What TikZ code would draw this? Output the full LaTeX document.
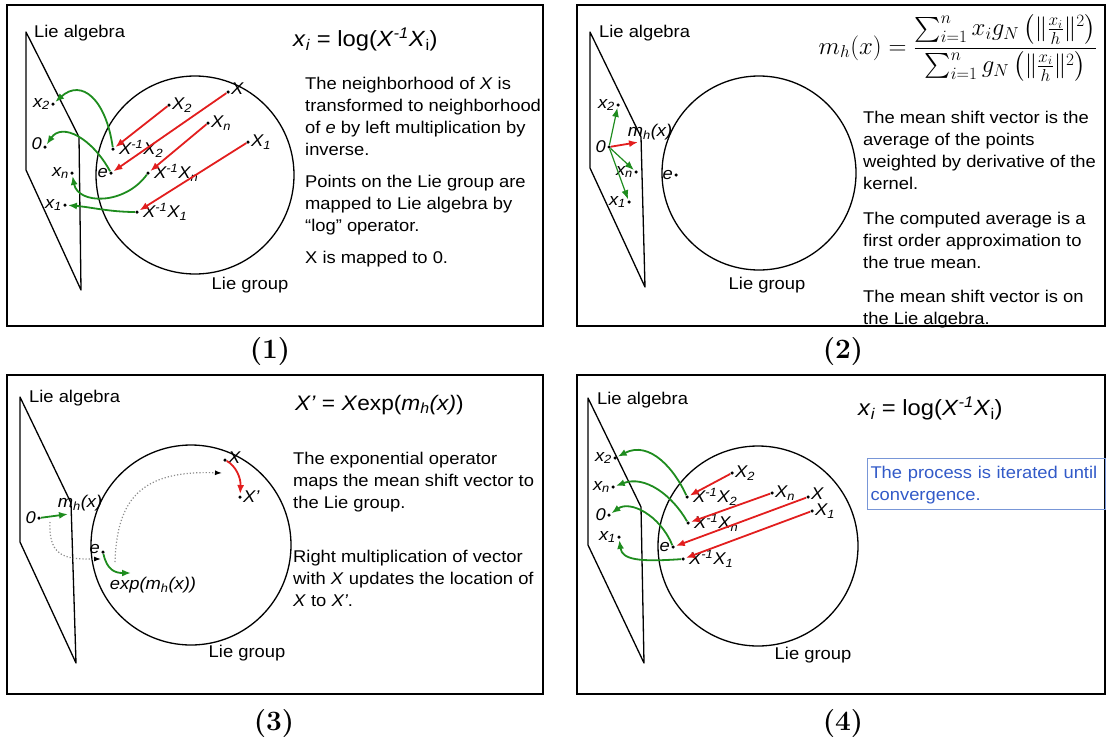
\documentclass[tikz,border=0pt]{standalone}
\usepackage{amsmath}
\usepackage{fontspec}
\newfontfamily\arial[FakeStretch=1.08]{Liberation Sans}
\usetikzlibrary{positioning,arrows.meta}
\definecolor{arrred}{RGB}{226,30,30}
\definecolor{arrgreen}{RGB}{30,140,30}
\definecolor{boxblue}{RGB}{120,150,215}
\definecolor{txtblue}{RGB}{50,90,200}
\newcommand{\invX}[1]{\textit{X}\textsuperscript{\textit{-1}}\textit{X}\textsubscript{\textit{#1}}}
\newcommand{\xsub}[1]{\textit{x}\textsubscript{\textit{#1}}}
\newcommand{\Xsub}[1]{\textit{X}\textsubscript{\textit{#1}}}
\newcommand{\mhx}{\textit{m}\textsubscript{\textit{h}}\textit{(x)}}

\begin{document}
\begin{tikzpicture}[x=1pt,y=-1pt,
    panel/.style={draw,line width=2.5pt},
    thinline/.style={line width=1.3pt,line join=round},
    dot/.style={circle,fill,inner sep=0pt,minimum size=3.5pt},
    lbl/.style={font=\arial\fontsize{17}{20}\selectfont\itshape,inner sep=1pt},
    lietxt/.style={font=\arial\fontsize{17}{20}\selectfont,inner sep=0pt},
    txt/.style={font=\arial\fontsize{17}{22}\selectfont,inner sep=0pt,
                align=left,anchor=north west},
    formula/.style={font=\arial\fontsize{22}{26}\selectfont,inner sep=0pt,
                    anchor=base west},
    redarr/.style={draw=arrred,line width=1.8pt,shorten >=1pt,
                   -{Latex[length=9pt,width=7pt]}},
    grnarr/.style={draw=arrgreen,line width=1.8pt,shorten >=1pt,
                   -{Latex[length=9pt,width=7pt]}},
    dotarr/.style={draw=black!45,dotted,line width=1.2pt,
                   -{Latex[length=7pt,width=5pt,color=black]}},
    capnum/.style={font=\fontsize{28}{32}\selectfont\bfseries}]
  \useasboundingbox (0,0) rectangle (1107,742);

  % (1) log map
  \draw[panel] (7,5) rectangle (543,326);
  \draw[thinline] (26,32) -- (79,137) -- (81,290) -- (26,170) -- cycle;
  \draw[thinline] (195,175) circle [radius=99pt];
  \node[lietxt,anchor=west] (alg1) at (34,33) {Lie algebra};
  \node[lietxt] (grp1) at (250,285) {Lie group};
  \node[dot] (aX) at (228,92) {};
  \node[lbl,right=0pt of aX,yshift=3pt] (aXl) {X};
  \node[dot] (aX2) at (169,105) {};
  \node[lbl,right=0pt of aX2] (aX2l) {\Xsub{2}};
  \node[dot] (aXn) at (208,123) {};
  \node[lbl,right=0pt of aXn] (aXnl) {\Xsub{n}};
  \node[dot] (aX1) at (248,142) {};
  \node[lbl,right=0pt of aX1] (aX1l) {\Xsub{1}};
  \node[dot] (aIX2) at (113,149) {};
  \node[lbl,right=3pt of aIX2] (aIX2l) {\invX{2}};
  \node[dot] (ae) at (111,173) {};
  \node[lbl,left=0pt of ae] (ael) {e};
  \node[dot] (aIXn) at (148,173) {};
  \node[lbl,right=3pt of aIXn] (aIXnl) {\invX{n}};
  \node[dot] (aIX1) at (137,212) {};
  \node[lbl,right=3pt of aIX1] (aIX1l) {\invX{1}};
  \node[dot] (ax2) at (53,104) {};
  \node[lbl,left=0pt of ax2] (ax2l) {\xsub{2}};
  \node[dot] (a0) at (45,147) {};
  \node[lbl,left=0pt of a0,yshift=3pt] (a0l) {0};
  \node[dot] (axn) at (72,173) {};
  \node[lbl,left=0pt of axn] (axnl) {\xsub{n}};
  \node[dot] (ax1) at (65,205) {};
  \node[lbl,left=0pt of ax1] (ax1l) {\xsub{1}};
  \draw[redarr] (aX) -- (ae);
  \draw[redarr] (aX2) -- (aIX2);
  \draw[redarr] (aXn) -- (aIXn);
  \draw[redarr] (aX1) -- (aIX1);
  \draw[grnarr] (aIX2) .. controls (106,100) and (82,78) .. (ax2);
  \draw[grnarr] (ae) .. controls (92,138) and (62,122) .. (a0);
  \draw[grnarr] (aIXn) .. controls (125,205) and (78,205) .. (axn);
  \draw[grnarr] (aIX1) .. controls (110,212) and (90,207) .. (ax1);
  \node[formula] (f1) at (293,46)
    {\xsub{i} = log(\textit{X}\textsuperscript{\textit{-1}}\textit{X}\textsubscript{i})};
  \node[txt] (t1a) at (305,73.6) {\strut The neighborhood of \textit{X} is\\
    transformed to neighborhood\\ of \textit{e} by left multiplication by\\ inverse.};
  \node[txt] (t1b) at (305,171.6) {\strut Points on the Lie group are\\
    mapped to Lie algebra by\\ “log” operator.};
  \node[txt] (t1c) at (305,247.6) {\strut X is mapped to 0.};
  \node[capnum] (cap1) at (270,352) {(1)};

  % (2) mean shift vector
  \draw[panel] (577,5) rectangle (1105,326);
  \draw[thinline] (590,32) -- (641,137) -- (645,287) -- (590,168) -- cycle;
  \draw[thinline] (759,173) circle [radius=97pt];
  \node[lietxt,anchor=west] (alg2) at (599,33) {Lie algebra};
  \node[lietxt] (grp2) at (767,285) {Lie group};
  \node[dot] (b0) at (609,147) {};
  \node[lbl,left=0pt of b0] (b0l) {0};
  \node[dot] (bx2) at (618,105) {};
  \node[lbl,left=0pt of bx2] (bx2l) {\xsub{2}};
  \node[dot] (bxn) at (636,172) {};
  \node[lbl,left=0pt of bxn] (bxnl) {\xsub{n}};
  \node[dot] (bx1) at (629,202) {};
  \node[lbl,left=0pt of bx1] (bx1l) {\xsub{1}};
  \node[dot] (be) at (676,175) {};
  \node[lbl,left=0pt of be] (bel) {e};
  \coordinate (bm) at (639,142);
  \node[lbl] (bml) at (650,132) {\mhx};
  \draw[redarr] (b0) -- (bm);
  \draw[grnarr,line width=1.2pt] (b0) -- (bx2);
  \draw[grnarr,line width=1.2pt] (b0) -- (bxn);
  \draw[grnarr,line width=1.2pt] (b0) -- (bx1);
  \node[font=\fontsize{24}{29}\selectfont,inner sep=0pt] (f2) at (958,48)
    {$\displaystyle m_h(x)=\frac{\sum_{i=1}^{n}x_ig_N\left(\|\frac{x_i}{h}\|^2\right)}
      {\sum_{i=1}^{n}g_N\left(\|\frac{x_i}{h}\|^2\right)}$};
  \node[txt] (t2a) at (863,107.6) {\strut The mean shift vector is the\\
    average of the points\\ weighted by derivative of the\\ kernel.};
  \node[txt] (t2b) at (863,208.6) {\strut The computed average is a\\
    first order approximation to\\ the true mean.};
  \node[txt] (t2c) at (863,286.6) {\strut The mean shift vector is on\\ the Lie algebra.};
  \node[capnum] (cap2) at (843,352) {(2)};

  % (3) exp map
  \draw[panel] (7,375) rectangle (543,694);
  \draw[thinline] (20,397) -- (71,503) -- (76,663) -- (20,542) -- cycle;
  \draw[thinline] (191,545) circle [radius=100pt];
  \node[lietxt,anchor=west] (alg3) at (29,398) {Lie algebra};
  \node[lietxt] (grp3) at (247,653) {Lie group};
  \node[dot] (c0) at (39,518) {};
  \node[lbl,left=0pt of c0] (c0l) {0};
  \coordinate (cm) at (69,514);
  \node[lbl] (cml) at (80,503) {\mhx};
  \draw[grnarr] (c0) -- (cm);
  \node[dot] (ce) at (103,552) {};
  \node[lbl,left=0pt of ce,yshift=3pt] (cel) {e};
  \coordinate (cex) at (132,573);
  \node[lbl] (cexl) at (153,585) {\textit{exp(m}\textsubscript{\textit{h}}\textit{(x))}};
  \draw[grnarr] (ce) .. controls (107,570) and (115,573) .. (cex);
  \node[dot] (cX) at (225,460) {};
  \node[lbl,right=0pt of cX,yshift=2pt] (cXl) {X};
  \node[dot] (cXp) at (240,497) {};
  \node[lbl,right=0pt of cXp] (cXpl) {X’};
  \draw[redarr] (cX) .. controls (236,466) and (241,478) .. (cXp);
  \coordinate (cd1) at (50,522);
  \coordinate (cd2) at (101,559);
  \coordinate (cd3) at (115,562);
  \coordinate (cd4) at (222,473);
  \draw[dotarr] (cd1) .. controls (48,560) and (70,559) .. (cd2);
  \draw[dotarr] (cd3) .. controls (117,500) and (140,470) .. (cd4);
  \node[formula,font=\arial\fontsize{21}{25}\selectfont] (f3) at (295,410)
    {\textit{X’} = \textit{X}exp(\textit{m}\textsubscript{\textit{h}}\textit{(x)})};
  \node[txt] (t3a) at (293,448.6) {\strut The exponential operator\\
    maps the mean shift vector to\\ the Lie group.};
  \node[txt] (t3b) at (293,546.6) {\strut Right multiplication of vector\\
    with \textit{X} updates the location of\\ \textit{X} to \textit{X’}.};
  \node[capnum] (cap3) at (274,723) {(3)};

  % (4) iterate
  \draw[panel] (577,375) rectangle (1105,694);
  \draw[thinline] (588,398) -- (641,507) -- (644,663) -- (588,545) -- cycle;
  \draw[thinline] (758,546) circle [radius=100pt];
  \node[lietxt,anchor=west] (alg4) at (597,400) {Lie algebra};
  \node[lietxt] (grp4) at (813,655) {Lie group};
  \node[dot] (dX2) at (732,473) {};
  \node[lbl,right=0pt of dX2] (dX2l) {\Xsub{2}};
  \node[dot] (dXn) at (772,493) {};
  \node[lbl,right=0pt of dXn] (dXnl) {\Xsub{n}};
  \node[dot] (dX) at (808,497) {};
  \node[lbl,right=0pt of dX,yshift=3pt] (dXl) {X};
  \node[dot] (dX1) at (812,511) {};
  \node[lbl,right=0pt of dX1] (dX1l) {\Xsub{1}};
  \node[dot] (dIX2) at (687,497) {};
  \node[lbl,right=3pt of dIX2] (dIX2l) {\invX{2}};
  \node[dot] (dIXn) at (688,523) {};
  \node[lbl,right=3pt of dIXn] (dIXnl) {\invX{n}};
  \node[dot] (de) at (673,547) {};
  \node[lbl,left=0pt of de] (del) {e};
  \node[dot] (dIX1) at (683,559) {};
  \node[lbl,right=3pt of dIX1] (dIX1l) {\invX{1}};
  \node[dot] (dx2) at (615,458) {};
  \node[lbl,left=0pt of dx2] (dx2l) {\xsub{2}};
  \node[dot] (dxn) at (613,487) {};
  \node[lbl,left=0pt of dxn] (dxnl) {\xsub{n}};
  \node[dot] (d0) at (609,515) {};
  \node[lbl,left=0pt of d0] (d0l) {0};
  \node[dot] (dx1) at (619,537) {};
  \node[lbl,left=0pt of dx1] (dx1l) {\xsub{1}};
  \draw[redarr] (dX2) -- (dIX2);
  \draw[redarr] (dXn) -- (dIXn);
  \draw[redarr] (dX) -- (de);
  \draw[redarr] (dX1) -- (dIX1);
  \draw[grnarr] (dIX2) .. controls (675,470) and (650,440) .. (dx2);
  \draw[grnarr] (dIXn) .. controls (672,495) and (645,475) .. (dxn);
  \draw[grnarr] (de) .. controls (660,515) and (630,500) .. (d0);
  \draw[grnarr] (dIX1) .. controls (640,562) and (622,560) .. (dx1);
  \node[formula] (f4) at (858,415)
    {\xsub{i} = log(\textit{X}\textsuperscript{\textit{-1}}\textit{X}\textsubscript{i})};
  \node[txt,draw=boxblue,line width=1pt,text=txtblue,text width=232pt,
        inner xsep=3pt,inner ysep=5pt]
    (box4) at (867,458) {\strut The process is iterated until\\ convergence.};
  \node[capnum] (cap4) at (843,723) {(4)};
\end{tikzpicture}
\end{document}
